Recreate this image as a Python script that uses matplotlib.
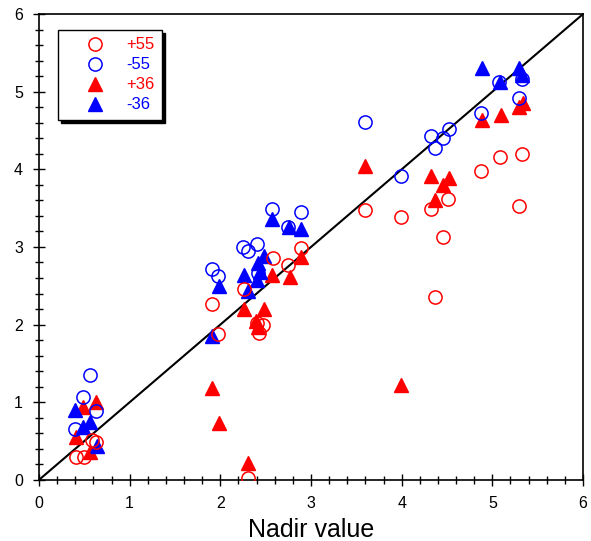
import matplotlib
matplotlib.use("Agg")
import matplotlib.pyplot as plt
from matplotlib.ticker import MultipleLocator

plt.rcParams["font.family"] = ["Liberation Sans", "DejaVu Sans"]

# +55 (open red circles)
p55_x = [0.41, 0.50, 0.58, 0.63, 1.91, 1.97, 2.26, 2.40, 2.43, 2.47, 2.58, 2.75, 2.89,
         2.30, 3.60, 3.99, 4.32, 4.46, 4.51, 4.37, 4.87, 5.08, 5.29, 5.33]
p55_y = [0.30, 0.30, 0.51, 0.49, 2.27, 1.88, 2.46, 2.02, 1.89, 2.00, 2.86, 2.77, 2.99,
         0.02, 3.48, 3.39, 3.49, 3.13, 3.62, 2.36, 3.98, 4.16, 3.53, 4.20]
# -55 (open blue circles)
m55_x = [0.56, 0.48, 0.63, 0.40, 1.91, 1.97, 2.25, 2.31, 2.40, 2.42, 2.57, 2.75, 2.89,
         3.60, 3.99, 4.32, 4.37, 4.46, 4.52, 4.87, 5.07, 5.29, 5.33]
m55_y = [1.35, 1.07, 0.89, 0.65, 2.72, 2.63, 3.00, 2.95, 3.04, 2.67, 3.49, 3.26, 3.45,
         4.61, 3.91, 4.43, 4.27, 4.40, 4.52, 4.73, 5.12, 4.92, 5.16]
# +36 (filled red triangles)
p36_x = [0.49, 0.63, 0.41, 0.56, 1.91, 1.99, 2.30, 2.26, 2.48, 2.39, 2.42, 2.57, 2.77, 2.89,
         3.60, 3.99, 4.32, 4.37, 4.46, 4.52, 4.89, 5.09, 5.29, 5.34]
p36_y = [0.94, 1.00, 0.55, 0.36, 1.18, 0.73, 0.22, 2.20, 2.20, 2.05, 1.97, 2.64, 2.61, 2.87,
         4.04, 1.22, 3.92, 3.61, 3.80, 3.89, 4.64, 4.70, 4.80, 4.85]
# -36 (filled blue triangles)
m36_x = [0.40, 0.48, 0.56, 0.64, 1.91, 1.99, 2.26, 2.31, 2.40, 2.42, 2.48, 2.44, 2.57, 2.76, 2.89,
         4.89, 5.08, 5.29, 5.33]
m36_y = [0.90, 0.68, 0.75, 0.43, 1.85, 2.50, 2.64, 2.43, 2.58, 2.79, 2.88, 2.68, 3.36, 3.26, 3.23,
         5.30, 5.12, 5.30, 5.22]

RED, BLUE = "#ff0000", "#0000ff"

fig = plt.figure(figsize=(5.91, 5.41), dpi=100)
ax = fig.add_axes([0.066, 0.113, 0.9205, 0.861])

ax.plot([0, 6], [0, 6], color="black", lw=1.5, zorder=1)
ms = 9.5
ax.plot(p55_x, p55_y, "o", ms=ms, mfc="none", mec=RED, mew=1.1, ls="none", label="+55", zorder=3)
ax.plot(m55_x, m55_y, "o", ms=ms, mfc="none", mec=BLUE, mew=1.1, ls="none", label="-55", zorder=3)
ax.plot(p36_x, p36_y, "^", ms=ms, color=RED, mec=RED, ls="none", label="+36", zorder=2)
ax.plot(m36_x, m36_y, "^", ms=ms, color=BLUE, mec=BLUE, ls="none", label="-36", zorder=2)

ax.set_xlim(0, 6); ax.set_ylim(0, 6)
ax.xaxis.set_major_locator(MultipleLocator(1)); ax.xaxis.set_minor_locator(MultipleLocator(0.2))
ax.yaxis.set_major_locator(MultipleLocator(1)); ax.yaxis.set_minor_locator(MultipleLocator(0.2))
ax.tick_params(which="major", direction="inout", length=9, width=1, labelsize=11.5, pad=7)
ax.tick_params(which="minor", direction="inout", length=6, width=1)
for s in ax.spines.values():
    s.set_linewidth(1.2)
ax.set_xlabel("Nadir value", fontsize=18, labelpad=5)

leg = ax.legend(loc="upper left", bbox_to_anchor=(0.035, 0.966), fontsize=12,
                labelcolor=[RED, BLUE, RED, BLUE], frameon=True, fancybox=False,
                edgecolor="black", framealpha=1, borderpad=0.45, handletextpad=0.15,
                labelspacing=0.3, handlelength=3.5, borderaxespad=0,
                shadow={"color": "black", "alpha": 1})
leg.get_frame().set_linewidth(1.0)

fig.savefig("out.png", dpi=100)
